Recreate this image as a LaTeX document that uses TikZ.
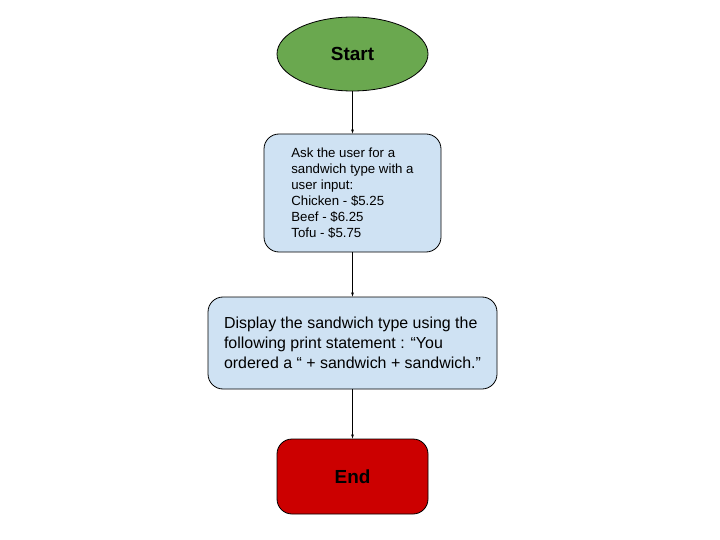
\documentclass[tikz,border=0pt]{standalone}
\usepackage{fontspec}
\setmainfont{Liberation Sans}
\usetikzlibrary{shapes.geometric}
\definecolor{startgreen}{HTML}{6AA84F}
\definecolor{boxblue}{HTML}{CFE2F3}
\definecolor{endred}{HTML}{CC0000}
\tikzset{
    stepbox/.style={draw, rounded corners=15bp, fill=boxblue, line width=0.8bp},
    ends/.style={draw, line width=0.8bp, font=\fontsize{19}{23}\selectfont\bfseries}
}
\begin{document}
\begin{tikzpicture}[>={latex[scale=1.2]}, x=1bp, y=1bp]
    \useasboundingbox (0,0) rectangle (720,-540);
    \node[ends, ellipse, fill=startgreen, minimum width=151bp, minimum height=74bp] (start) at (352.5,-54) {Start};
    \node[stepbox, minimum width=177bp, minimum height=118bp, align=left,
        font=\fontsize{13.3}{16}\selectfont] (ask) at (352.5,-193)
        {Ask the user for a\\sandwich type with a\\user input:\\Chicken - \$5.25\\Beef - \$6.25\\Tofu - \$5.75};
    \node[stepbox, minimum width=289bp, minimum height=92bp, align=left,
        font=\fontsize{16}{20}\selectfont] (show) at (352.5,-343)
        {Display the sandwich type using the\\following print statement : “You\\ordered a “ + sandwich + sandwich.”};
    \node[ends, rectangle, rounded corners=15bp, fill=endred, minimum width=151bp, minimum height=75bp] (end) at (352.5,-476.5) {End};
    \draw[->] (start) -- (ask);
    \draw[->] (ask) -- (show);
    \draw[->] (show) -- (end);
\end{tikzpicture}
\end{document}
